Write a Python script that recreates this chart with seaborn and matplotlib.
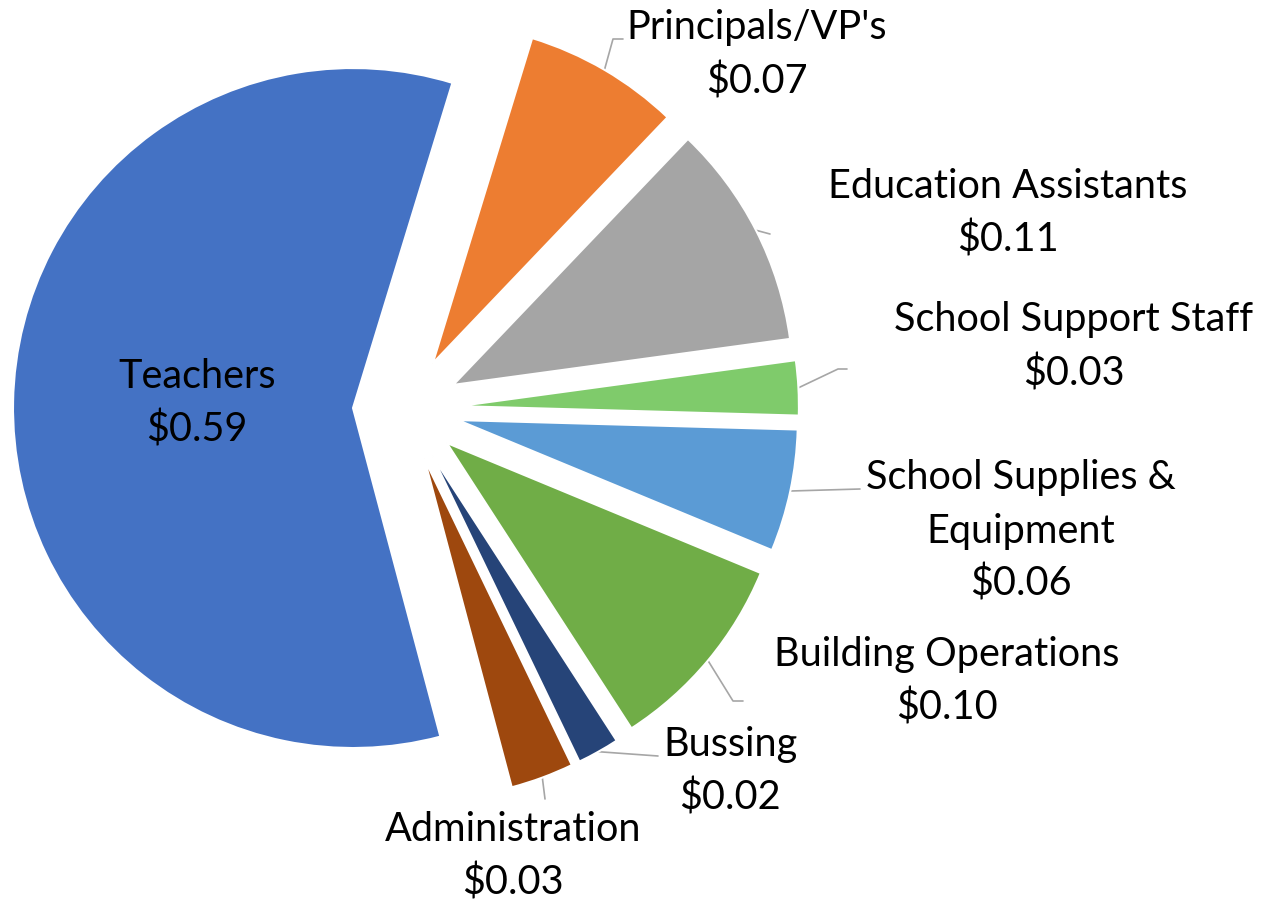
import numpy as np
import matplotlib
matplotlib.use("Agg")
import matplotlib.pyplot as plt
import seaborn as sns

categories = ["Principals/VP's", "Education Assistants", "School Support Staff",
              "School Supplies &\nEquipment", "Building Operations", "Bussing",
              "Administration", "Teachers"]
# dollars per dollar (labels show them rounded)
values = [0.074, 0.107, 0.026, 0.058, 0.096, 0.020, 0.030, 0.588]
colors = ["#ED7D31", "#A5A5A5", "#7FCB6B", "#5B9BD5", "#70AD47", "#264478",
          "#9E480E", "#4472C4"]

W, H = 1283, 904
sns.set_theme(style="white")
plt.rcParams['font.family'] = ['Lato', 'DejaVu Sans']

fig = plt.figure(figsize=(W / 100, H / 100), dpi=100)
ax = fig.add_axes([0, 0, 1, 1])

def P(x, y):
    return (x, H - y)

R = 340
center = P(406, 410)
explode = [53] * len(values)   # in pixels (data units)
wedges, _ = ax.pie(values, colors=sns.color_palette(colors), startangle=73,
                   counterclock=False, radius=R, center=center, explode=explode,
                   wedgeprops=dict(edgecolor="white", linewidth=1.5))
ax.set_xlim(0, W)
ax.set_ylim(0, H)
ax.set_aspect("equal")
ax.axis("off")

FS = 28.5
# label layout: (label centre x, first line y), leader elbow/end points, in pixels
layout = {
    "Principals/VP's": ((757, 28), [(613, 40), (623, 40)]),
    "Education Assistants": ((1008, 187), [(770, 235)]),
    "School Support Staff": ((1074, 320), [(838, 370), (847, 370)]),
    "School Supplies &\nEquipment": ((1021, 478), [(860, 490)]),
    "Building Operations": ((947, 655), [(733, 702), (743, 702)]),
    "Bussing": ((730, 745), [(658, 757)]),
    "Administration": ((513, 830), [(545, 800)]),
    "Teachers": ((197, 377), None),
}
LH = 53
for w, cat, v in zip(wedges, categories, values):
    (lx, ly), leader = layout[cat]
    lines = cat.split("\n") + [f"${v:.2f}"]
    for i, t in enumerate(lines):
        ax.text(*P(lx, ly + i * LH), t, ha="center", va="center", fontsize=FS,
                color="black")
    if leader:
        mid = np.deg2rad((w.theta1 + w.theta2) / 2)
        sx = w.center[0] + w.r * np.cos(mid)
        sy = w.center[1] + w.r * np.sin(mid)
        pts = [(sx, sy)] + [P(*p) for p in leader]
        xs, ys = zip(*pts)
        ax.plot(xs, ys, color="#A6A6A6", lw=1.2, zorder=0)

fig.savefig("out.png", dpi=100, facecolor="white")
